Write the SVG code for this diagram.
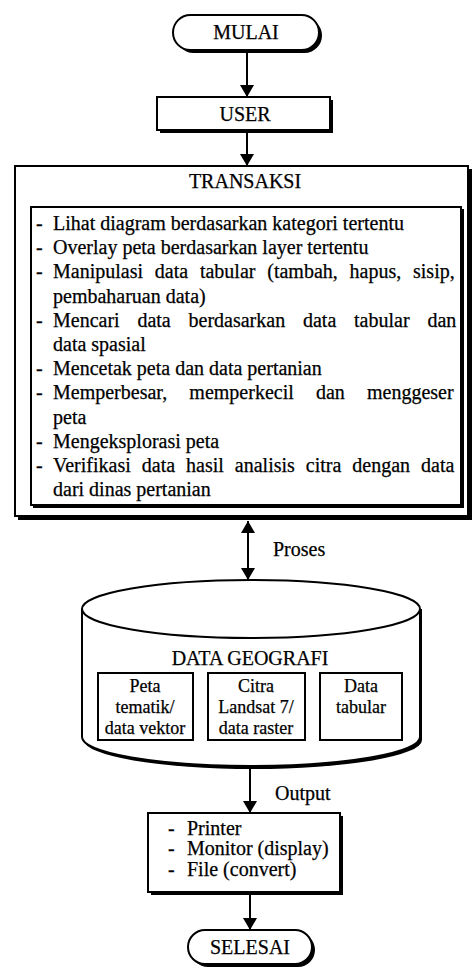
<svg xmlns="http://www.w3.org/2000/svg" width="474" height="970" viewBox="0 0 474 970">
  <style>
    text { font-family: "Liberation Serif", "Times New Roman", serif; fill: #000; stroke: #000; stroke-width: 0.25; }
    .t { font-size: 20px; }
    .s { font-size: 18px; }
    .c { text-anchor: middle; }
    .box { fill: #fff; stroke: #000; stroke-width: 2; }
    .shadow { fill: #000; }
    .line { stroke: #000; stroke-width: 2; fill: none; }
  </style>
  <defs>
    <marker id="arrow" viewBox="0 0 12 14" refX="12" refY="7" markerWidth="12" markerHeight="14" markerUnits="userSpaceOnUse" orient="auto">
      <path d="M0,0 L12,7 L0,14 z" fill="#000"/>
    </marker>
    <marker id="arrowStart" viewBox="0 0 12 14" refX="0" refY="7" markerWidth="12" markerHeight="14" markerUnits="userSpaceOnUse" orient="auto">
      <path d="M12,0 L0,7 L12,14 z" fill="#000"/>
    </marker>
  </defs>

  <rect width="474" height="970" fill="#fff"/>

  <!-- connectors -->
  <g id="connectors">
    <line class="line" x1="247" y1="52" x2="247" y2="97" marker-end="url(#arrow)"/>
    <line class="line" x1="247" y1="133" x2="247" y2="166" marker-end="url(#arrow)"/>
    <line class="line" x1="248" y1="521" x2="248" y2="580" marker-start="url(#arrowStart)" marker-end="url(#arrow)"/>
    <text class="t" x="273" y="556">Proses</text>
    <line class="line" x1="250" y1="767" x2="250" y2="813" marker-end="url(#arrow)"/>
    <text class="t" x="275" y="800">Output</text>
    <line class="line" x1="250" y1="895" x2="250" y2="930" marker-end="url(#arrow)"/>
  </g>

  <!-- start terminal -->
  <g id="mulai">
    <rect class="shadow" x="176" y="18" width="146" height="35" rx="17.5"/>
    <rect class="box" x="173" y="15" width="146" height="35" rx="17.5"/>
    <text class="t c" x="246" y="39">MULAI</text>
  </g>

  <!-- user -->
  <g id="user">
    <rect class="shadow" x="160" y="100" width="173" height="33"/>
    <rect class="box" x="157" y="97" width="173" height="33"/>
    <text class="t c" x="245" y="121">USER</text>
  </g>

  <!-- transaction box -->
  <g id="transaksi">
    <rect class="shadow" x="18" y="169" width="454" height="351"/>
    <rect class="box" x="15" y="166" width="453" height="350"/>
    <text class="t c" x="245" y="188">TRANSAKSI</text>
    <rect class="shadow" x="33" y="209" width="431" height="299"/>
    <rect class="box" x="31" y="207" width="430" height="298" stroke-width="1.5"/>
    <g class="t">
      <text x="36" y="230">-</text><text x="53" y="230">Lihat diagram berdasarkan kategori tertentu</text>
      <text x="36" y="254">-</text><text x="53" y="254">Overlay peta berdasarkan layer tertentu</text>
      <text x="36" y="278">-</text><text x="53" y="278" word-spacing="6.8">Manipulasi data tabular (tambah, hapus, sisip,</text>
      <text x="53" y="303">pembaharuan data)</text>
      <text x="36" y="327">-</text><text x="53" y="327" word-spacing="12.8">Mencari data berdasarkan data tabular dan</text>
      <text x="53" y="351">data spasial</text>
      <text x="36" y="375">-</text><text x="53" y="375">Mencetak peta dan data pertanian</text>
      <text x="36" y="399">-</text><text x="53" y="399" word-spacing="17.2">Memperbesar, memperkecil dan menggeser</text>
      <text x="53" y="424">peta</text>
      <text x="36" y="448">-</text><text x="53" y="448">Mengeksplorasi peta</text>
      <text x="36" y="472">-</text><text x="53" y="472" word-spacing="6">Verifikasi data hasil analisis citra dengan data</text>
      <text x="53" y="496">dari dinas pertanian</text>
    </g>
  </g>

  <!-- geographic database -->
  <g id="data-geografi">
    <path class="shadow" d="M84,609 L84,740 A169,29 0 0 0 422,740 L422,609 z"/>
    <path class="box" d="M82,609 L82,737 A169,29 0 0 0 420,737 L420,609"/>
    <ellipse class="box" cx="251" cy="609" rx="169" ry="29"/>
    <text class="t c" x="250" y="665">DATA GEOGRAFI</text>
  </g>

  <g id="peta-tematik">
    <rect class="box" x="98" y="673" width="95" height="67"/>
    <text class="s c" x="145" y="692">Peta</text>
    <text class="s c" x="145" y="713">tematik/</text>
    <text class="s c" x="145" y="734">data vektor</text>
  </g>
  <g id="citra-landsat">
    <rect class="box" x="208" y="673" width="97" height="67"/>
    <text class="s c" x="256" y="692">Citra</text>
    <text class="s c" x="256" y="713">Landsat 7/</text>
    <text class="s c" x="256" y="734">data raster</text>
  </g>
  <g id="data-tabular">
    <rect class="box" x="320" y="673" width="82" height="67"/>
    <text class="s c" x="361" y="692">Data</text>
    <text class="s c" x="361" y="713">tabular</text>
  </g>

  <!-- output devices -->
  <g id="output">
    <rect class="shadow" x="151" y="816" width="192" height="79"/>
    <rect class="box" x="148" y="813" width="192" height="79"/>
    <g class="t">
      <text x="168" y="835">-</text><text x="187" y="835">Printer</text>
      <text x="168" y="855">-</text><text x="187" y="855">Monitor (display)</text>
      <text x="168" y="876">-</text><text x="187" y="876">File (convert)</text>
    </g>
  </g>

  <!-- end terminal -->
  <g id="selesai">
    <rect class="shadow" x="191" y="933" width="124" height="34" rx="17"/>
    <rect class="box" x="188" y="930" width="124" height="34" rx="17"/>
    <text class="t c" x="250" y="954">SELESAI</text>
  </g>
</svg>
